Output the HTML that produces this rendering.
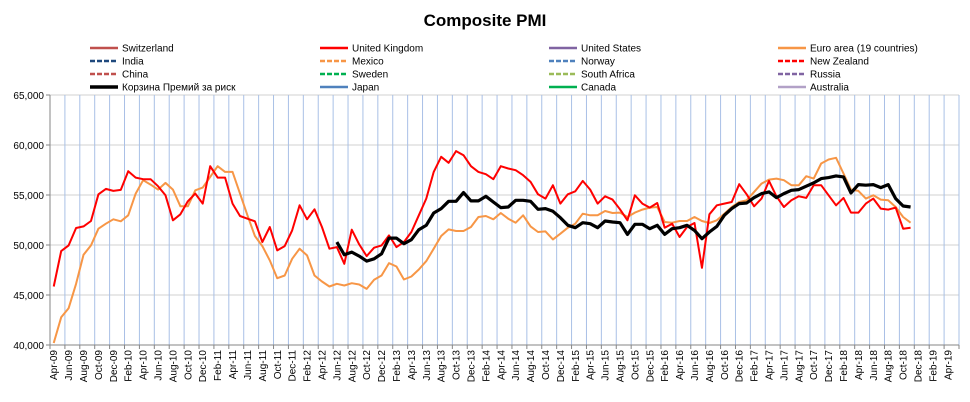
<!DOCTYPE html>
<html><head><meta charset="utf-8">
<style>
html,body{margin:0;padding:0;background:#fff;}
#wrap{position:relative;width:970px;height:402px;overflow:hidden;font-family:"Liberation Sans","DejaVu Sans",sans-serif;}
svg text{font-family:"Liberation Sans","DejaVu Sans",sans-serif;}
</style></head>
<body>
<div id="wrap">
<svg id="chart" width="970" height="402">
<text x="485" y="26" text-anchor="middle" font-size="17" font-weight="bold" fill="#000">Composite PMI</text>
<g id="legend"></g>
<g id="grid"></g>
<g id="axes"></g>
<g id="series"></g>
</svg>
</div>
<script>
const NS="http://www.w3.org/2000/svg";
const monthNames=["Jan","Feb","Mar","Apr","May","Jun","Jul","Aug","Sep","Oct","Nov","Dec"];
const categoryCount=122; // Apr-09 .. May-19
const yTicks=[40000,45000,50000,55000,60000,65000];
const legendNames=["Switzerland","United Kingdom","United States","Euro area (19 countries)","India","Mexico","Norway","New Zealand","China","Sweden","South Africa","Russia","Корзина Премий за риск","Japan","Canada","Australia"];
const ukValues=[45.85,49.39,49.96,51.70,51.86,52.40,55.07,55.61,55.41,55.51,57.38,56.74,56.58,56.58,55.88,54.97,52.47,53.07,54.37,55.14,54.14,57.88,56.74,56.74,54.14,52.90,52.63,52.37,50.29,51.80,49.46,49.89,51.46,53.97,52.57,53.57,51.80,
49.63,49.79,48.12,51.53,50.06,48.89,49.73,49.96,50.96,49.79,50.29,51.30,52.97,54.64,57.31,58.82,58.22,59.39,58.98,57.88,57.31,57.08,56.58,57.88,57.65,57.48,56.98,56.31,55.07,54.64,55.98,54.14,55.07,55.37,56.41,55.54,54.14,54.87,54.54,53.57,52.47,54.97,54.14,53.74,
54.20,51.73,52.13,50.80,51.80,52.20,47.72,53.07,53.97,54.14,54.30,56.08,55.07,53.87,54.64,56.41,54.87,53.80,54.47,54.87,54.71,55.98,55.98,54.97,53.97,54.71,53.24,53.24,54.14,54.64,53.64,53.54,53.74,51.63,51.73];
const euroValues=[40.20,42.77,43.68,46.12,49.02,49.96,51.63,52.13,52.57,52.37,52.97,55.14,56.48,56.04,55.54,56.21,55.54,53.87,53.87,55.47,55.74,56.81,57.88,57.31,57.31,55.14,52.97,50.90,49.89,48.46,46.68,46.95,48.62,49.63,48.96,46.95,46.35,
45.85,46.12,45.95,46.18,46.05,45.61,46.52,46.95,48.19,47.85,46.55,46.85,47.55,48.39,49.63,50.90,51.56,51.40,51.40,51.80,52.80,52.90,52.57,53.20,52.63,52.23,52.97,51.86,51.30,51.36,50.56,51.13,51.73,52.13,53.13,52.97,52.97,53.40,53.20,53.24,52.80,53.24,53.54,53.74,
53.80,52.30,52.23,52.40,52.40,52.80,52.40,52.20,52.47,53.13,53.80,54.30,54.47,55.31,56.14,56.54,56.64,56.48,55.98,55.98,56.88,56.64,58.15,58.55,58.72,57.15,55.54,55.41,54.64,54.97,54.54,54.47,53.80,52.80,52.23];
const basketStart=38;
const basketValues=[50.29,49.02,49.29,48.89,48.39,48.62,49.12,50.69,50.69,50.13,50.53,51.53,51.97,53.20,53.64,54.37,54.37,55.24,54.41,54.41,54.87,54.30,53.74,53.80,54.47,54.47,54.37,53.57,53.64,53.37,52.73,51.97,51.73,52.23,52.13,51.73,52.40,52.30,52.23,51.06,52.07,52.07,51.63,
51.97,51.06,51.63,51.73,51.97,51.46,50.63,51.30,51.86,52.97,53.64,54.14,54.20,54.74,55.14,55.31,54.74,55.14,55.47,55.54,55.88,56.21,56.64,56.74,56.91,56.81,55.21,56.04,55.98,56.04,55.74,56.04,54.64,53.90,53.80];

const X0=50,X1=959,Y0=345,Y1=95;
const cw=(X1-X0)/categoryCount;
function xPos(i){return X0+(i+0.5)*cw;}
function yPos(v){return Y0-(v-40000)/(65000-40000)*(Y0-Y1);}
function mk(tag,attrs,parent){const e=document.createElementNS(NS,tag);for(const k in attrs)e.setAttribute(k,attrs[k]);parent.appendChild(e);return e;}
function label(i){const m=(3+i)%12;const y=9+Math.floor((3+i)/12);return monthNames[m]+"-"+String(y).padStart(2,"0");}

const grid=document.getElementById("grid"),axes=document.getElementById("axes"),series=document.getElementById("series"),legend=document.getElementById("legend");
// horizontal gridlines
yTicks.forEach(v=>{
 const l=mk("line",{x1:X0,x2:X1,y1:yPos(v),y2:yPos(v),stroke:"#d0d0d0","stroke-width":1},grid);
 
 
 const t=mk("text",{x:44,y:yPos(v)+4,"text-anchor":"end","font-size":"10",fill:"#000"},axes);
 t.textContent=v.toLocaleString("en-US");
 
 
});
// vertical gridlines every 2 categories
for(let k=2;k<=categoryCount;k+=2){
 const x=X0+k*cw;
 const l=mk("line",{x1:x,x2:x,y1:Y1,y2:Y0,stroke:"#a9c0e6","stroke-width":1},grid);
 
 
}
// axes lines
const ya=mk("line",{x1:X0,x2:X0,y1:Y1,y2:Y0,stroke:"#868686","stroke-width":1},axes);


const xa=mk("line",{x1:X0,x2:X1,y1:Y0,y2:Y0,stroke:"#868686","stroke-width":1},axes);


yTicks.forEach(v=>{mk("line",{x1:X0-4,x2:X0,y1:yPos(v),y2:yPos(v),stroke:"#868686"},axes);});
for(let k=0;k<=categoryCount;k+=2){const x=X0+k*cw;mk("line",{x1:x,x2:x,y1:Y0,y2:Y0+4,stroke:"#868686"},axes);}
for(let i=0;i<categoryCount;i+=2){
 const x=xPos(i)+3.5;
 const t=mk("text",{x:x,y:350,"text-anchor":"end","font-size":"10",fill:"#000",transform:`rotate(-90 ${x} 350)`},axes);
 t.setAttribute('x',x);t.setAttribute('y',350);
 t.textContent=label(i);
 
 
}
function drawSeries(vals,start,color,width,name){
 const pts=vals.map((v,j)=>xPos(start+j).toFixed(2)+","+yPos(v*1000).toFixed(2)).join(" ");
 const p=mk("polyline",{points:pts,fill:"none",stroke:color,"stroke-width":width,"stroke-linejoin":"round"},series);
 
 
}
drawSeries(euroValues,0,"#f79646",2,"euro-area-line");
drawSeries(ukValues,0,"#ff0000",2,"united-kingdom-line");
drawSeries(basketValues,basketStart,"#000000",3.2,"risk-premium-basket-line");
// legend
const legColors=["#c0504d","#ff0000","#8064a2","#f79646","#1f497d","#f79646","#4f81bd","#ff0000","#c0504d","#00b050","#9bbb59","#8064a2","#000000","#4f81bd","#00b050","#b2a1c7"];
const legDash=[0,0,0,0,1,1,1,1,1,1,1,1,0,0,0,0];
const colX=[90,320,549,778];
legendNames.forEach((n,i)=>{
 const c=i%4,r=Math.floor(i/4);
 const x=colX[c],y=48+r*13;
 const g=mk("g",{},legend);
 
 
 mk("line",{x1:x,x2:x+28,y1:y,y2:y,stroke:legColors[i],"stroke-width":i===12?3.5:2.5,"stroke-dasharray":legDash[i]?"5,2":"none"},g);
 const t=mk("text",{x:x+32,y:y+3.5,"font-size":"10",fill:"#000"},g);
 t.textContent=n;
});
</script>
</body></html>
